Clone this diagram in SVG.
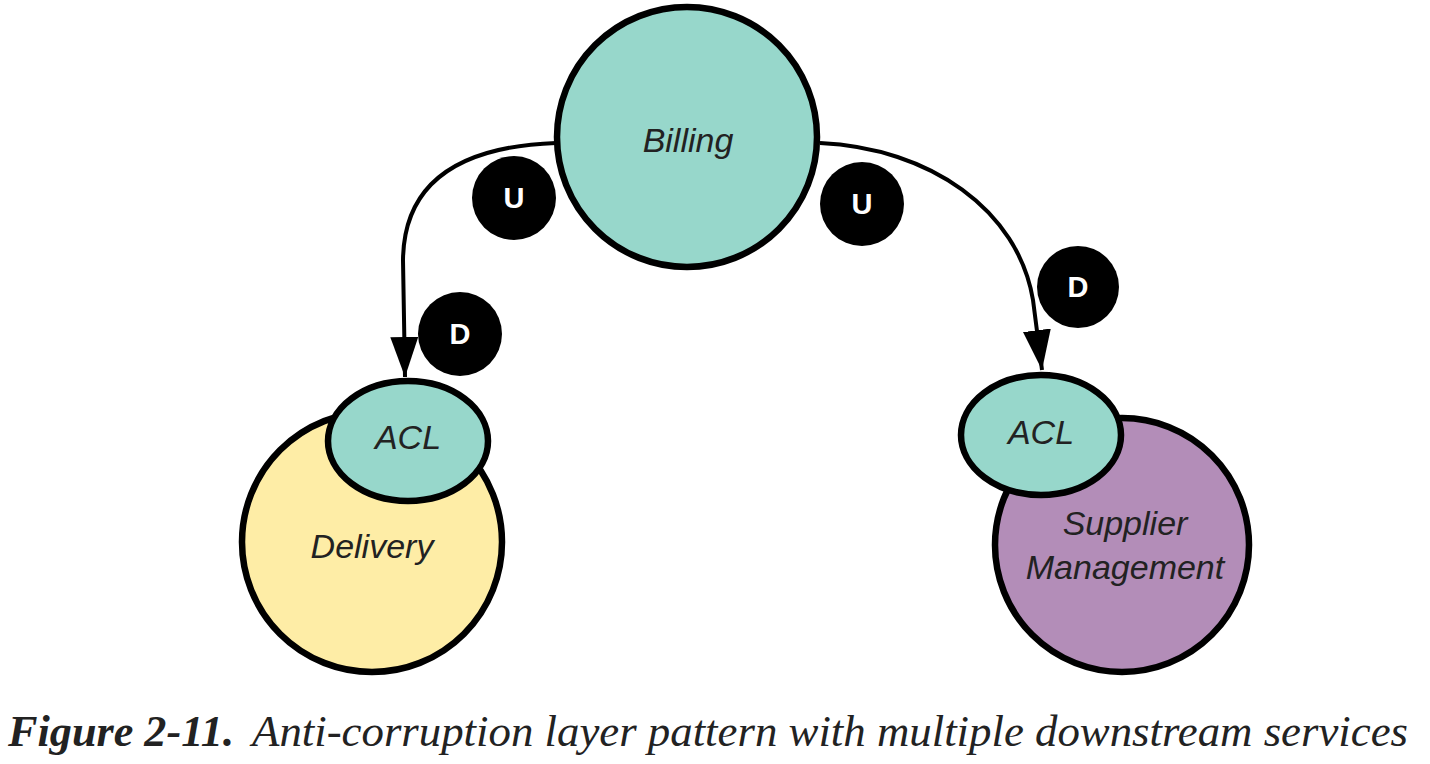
<svg xmlns="http://www.w3.org/2000/svg" width="1430" height="764" viewBox="0 0 1430 764">
<style>
.node{stroke:#000;stroke-width:6.5}
.teal{fill:#97D7CB}
.lbl{font-family:"Liberation Sans",Arial,sans-serif;font-style:italic;font-size:34px;fill:#222;text-anchor:middle}
.badge{fill:#000}
.bt{font-family:"Liberation Sans",Arial,sans-serif;font-weight:bold;font-size:29px;fill:#fff;text-anchor:middle}
.conn{fill:none;stroke:#000;stroke-width:4}
.cap{font-family:"Liberation Serif","Times New Roman",serif;font-style:italic;font-size:44px;fill:#222}
</style>
<defs>
<marker id="arr" viewBox="0 0 10 7" refX="10" refY="3.5" markerWidth="10" markerHeight="7" markerUnits="strokeWidth" orient="auto">
<path d="M0,0 L10,3.5 L0,7 z" fill="#000"/>
</marker>
</defs>
<g id="connectors">
<path class="conn" d="M556 143 C470 146 404 175 403 260 L405 377" marker-end="url(#arr)"/>
<path class="conn" d="M820 143 C930 148 1018 210 1033 300 L1042 370" marker-end="url(#arr)"/>
</g>
<g id="billing">
<circle class="node teal" cx="687" cy="137" r="130"/>
<text class="lbl" x="688" y="152">Billing</text>
</g>
<g id="delivery">
<circle class="node" fill="#FEEDA6" cx="372" cy="542" r="130"/>
<text class="lbl" x="372" y="558">Delivery</text>
</g>
<g id="acl-left">
<ellipse class="node teal" cx="408" cy="441" rx="80" ry="60"/>
<text class="lbl" x="408" y="449">ACL</text>
</g>
<g id="supplier">
<circle class="node" fill="#B38DB8" cx="1122" cy="545" r="127"/>
<text class="lbl" x="1125" y="535">Supplier</text>
<text class="lbl" x="1125" y="579">Management</text>
</g>
<g id="acl-right">
<ellipse class="node teal" cx="1041" cy="435" rx="80" ry="60"/>
<text class="lbl" x="1041" y="444">ACL</text>
</g>
<g id="badge-u-left">
<circle class="badge" cx="514" cy="198" r="42"/>
<text class="bt" x="514" y="208">U</text>
</g>
<g id="badge-u-right">
<circle class="badge" cx="862" cy="204" r="42"/>
<text class="bt" x="862" y="214">U</text>
</g>
<g id="badge-d-left">
<circle class="badge" cx="460" cy="334" r="42"/>
<text class="bt" x="460" y="344">D</text>
</g>
<g id="badge-d-right">
<circle class="badge" cx="1078" cy="287" r="41"/>
<text class="bt" x="1078" y="297">D</text>
</g>
<text class="cap" y="746"><tspan x="8" font-weight="bold" textLength="226" lengthAdjust="spacingAndGlyphs">Figure 2-11.</tspan><tspan x="252" textLength="1156" lengthAdjust="spacingAndGlyphs">Anti-corruption layer pattern with multiple downstream services</tspan></text>
</svg>
